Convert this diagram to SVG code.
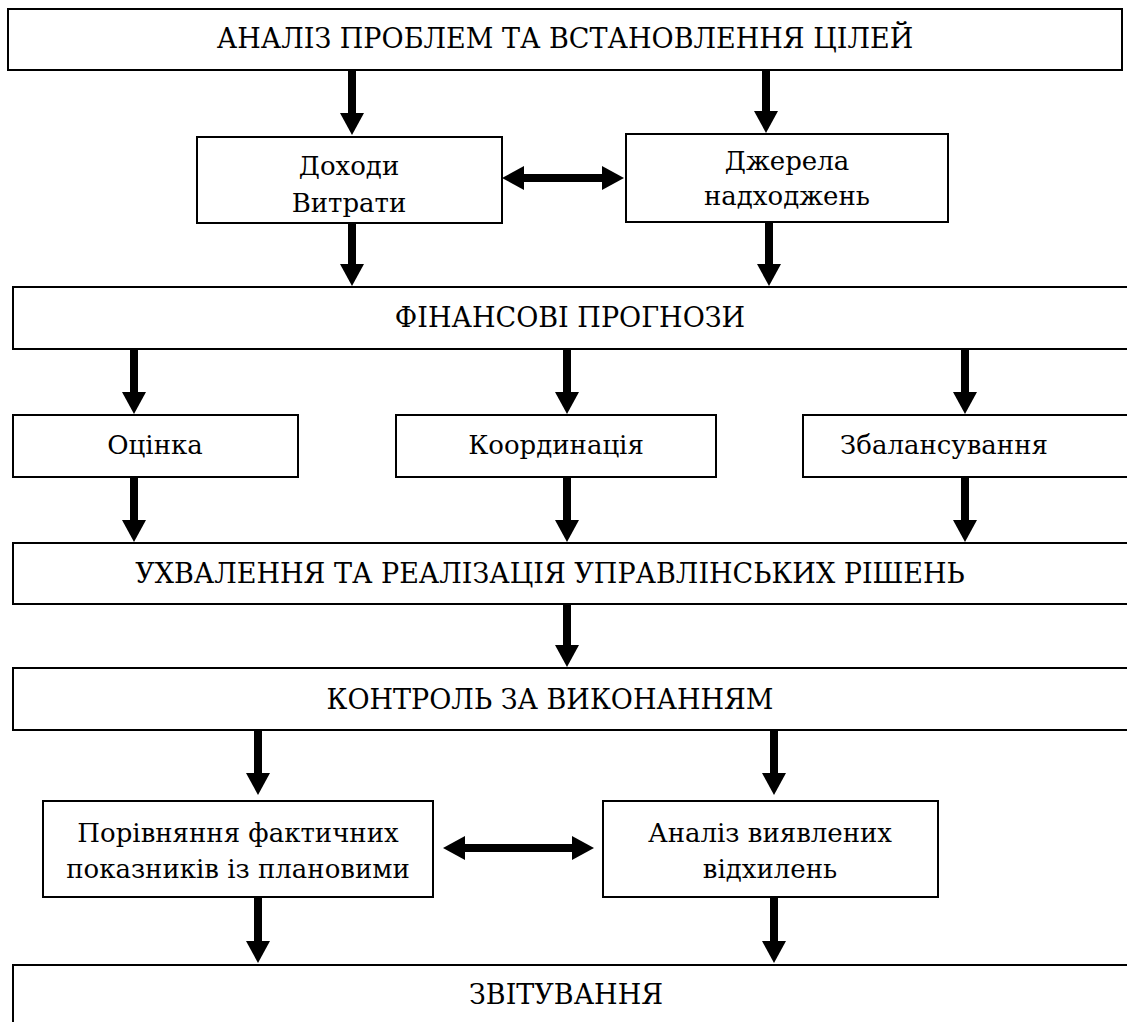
<svg xmlns="http://www.w3.org/2000/svg" width="1127" height="1022" viewBox="0 0 1127 1022">
  <style>
    .box { fill: #fff; stroke: #000; stroke-width: 2; }
    .t { font-family: "DejaVu Serif", "Liberation Serif", serif; font-size: 27px; fill: #000; text-anchor: middle; }
    .s { font-size: 26px; }
    .sh { stroke: #000; stroke-width: 8; fill: none; marker-end: url(#ah); }
    .dbl { stroke: #000; stroke-width: 8; fill: none; marker-end: url(#ah); marker-start: url(#ah); }
  </style>
  <defs>
    <marker id="ah" markerUnits="userSpaceOnUse" markerWidth="22" markerHeight="24" refX="0" refY="12" orient="auto-start-reverse" overflow="visible">
      <path d="M0,0 L22,12 L0,24 z" fill="#000"/>
    </marker>
  </defs>
  <rect width="1127" height="1022" fill="#fff"/>

  <g id="n-analysis">
    <rect class="box" x="8" y="9" width="1114" height="61"/>
    <text class="t" x="565" y="48">АНАЛІЗ ПРОБЛЕМ ТА ВСТАНОВЛЕННЯ ЦІЛЕЙ</text>
  </g>
  <g id="n-income">
    <rect class="box" x="197" y="137" width="305" height="86"/>
    <text class="t s" x="349" y="175">Доходи</text>
    <text class="t s" x="349" y="212">Витрати</text>
  </g>
  <g id="n-sources">
    <rect class="box" x="626" y="134" width="322" height="88"/>
    <text class="t s" x="787" y="170">Джерела</text>
    <text class="t s" x="787" y="205">надходжень</text>
  </g>
  <g id="n-forecast">
    <rect class="box" x="13" y="287" width="1130" height="62"/>
    <text class="t" x="570" y="327">ФІНАНСОВІ ПРОГНОЗИ</text>
  </g>
  <g id="n-estimate">
    <rect class="box" x="13" y="415" width="285" height="62"/>
    <text class="t s" x="155" y="454">Оцінка</text>
  </g>
  <g id="n-coord">
    <rect class="box" x="396" y="415" width="320" height="62"/>
    <text class="t s" x="556" y="454">Координація</text>
  </g>
  <g id="n-balance">
    <rect class="box" x="803" y="415" width="340" height="62"/>
    <text class="t s" x="944" y="454">Збалансування</text>
  </g>
  <g id="n-decisions">
    <rect class="box" x="13" y="543" width="1130" height="61"/>
    <text class="t" x="550" y="583">УХВАЛЕННЯ ТА РЕАЛІЗАЦІЯ УПРАВЛІНСЬКИХ РІШЕНЬ</text>
  </g>
  <g id="n-control">
    <rect class="box" x="13" y="668" width="1130" height="62"/>
    <text class="t" x="550" y="709">КОНТРОЛЬ ЗА ВИКОНАННЯМ</text>
  </g>
  <g id="n-compare">
    <rect class="box" x="43" y="801" width="390" height="96"/>
    <text class="t s" x="238" y="842">Порівняння фактичних</text>
    <text class="t s" x="238" y="878">показників із плановими</text>
  </g>
  <g id="n-deviations">
    <rect class="box" x="603" y="801" width="335" height="96"/>
    <text class="t s" x="770" y="842">Аналіз виявлених</text>
    <text class="t s" x="770" y="878">відхилень</text>
  </g>
  <g id="n-report">
    <rect class="box" x="13" y="965" width="1130" height="80"/>
    <text class="t" x="566" y="1004">ЗВІТУВАННЯ</text>
  </g>

  <g id="connectors">
    <line class="sh" x1="352" y1="70" x2="352" y2="113"/>
    <line class="sh" x1="766" y1="70" x2="766" y2="111"/>
    <line class="sh" x1="352" y1="224" x2="352" y2="264"/>
    <line class="sh" x1="769" y1="222" x2="769" y2="264"/>
    <line class="dbl" x1="524" y1="178" x2="602" y2="178"/>
    <line class="sh" x1="134" y1="349" x2="134" y2="392"/>
    <line class="sh" x1="567" y1="349" x2="567" y2="392"/>
    <line class="sh" x1="965" y1="349" x2="965" y2="392"/>
    <line class="sh" x1="134" y1="477" x2="134" y2="520"/>
    <line class="sh" x1="567" y1="477" x2="567" y2="520"/>
    <line class="sh" x1="965" y1="477" x2="965" y2="520"/>
    <line class="sh" x1="567" y1="604" x2="567" y2="645"/>
    <line class="sh" x1="258" y1="730" x2="258" y2="773"/>
    <line class="sh" x1="774" y1="730" x2="774" y2="773"/>
    <line class="dbl" x1="465" y1="848" x2="572" y2="848"/>
    <line class="sh" x1="258" y1="897" x2="258" y2="941"/>
    <line class="sh" x1="774" y1="897" x2="774" y2="941"/>
  </g>
</svg>
